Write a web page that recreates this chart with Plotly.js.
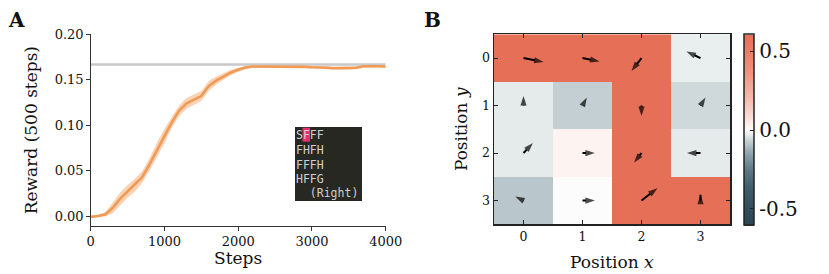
<!DOCTYPE html>
<html>
<head>
<meta charset="utf-8">
<script src="https://cdn.plot.ly/plotly-3.0.1.min.js"></script>
<style>html,body{margin:0;padding:0;background:#fff;}#chart{width:829px;height:274px;}</style>
</head>
<body>
<div id="chart"></div>
<script>
// ---------- Panel A data ----------
const steps = [0,100,200,300,400,500,600,700,800,900,1000,1100,1200,1300,1400,1500,1600,1700,1800,1900,2000,
  2100,2200,2300,2400,2500,2600,2700,2800,2900,3000,3100,3200,3300,3400,3500,3600,3700,3800,3900,4000];
const rewardMean = [-0.001,0.000,0.002,0.009,0.019,0.027,0.034,0.043,0.057,0.073,0.088,0.103,0.116,0.124,0.128,0.132,0.143,0.149,0.1535,0.158,0.161,
  0.1635,0.1645,0.1645,0.1645,0.1648,0.1645,0.1648,0.1645,0.1642,0.1637,0.1638,0.1632,0.1626,0.1626,0.1628,0.1632,0.1648,0.165,0.1648,0.1645];
const rewardHalfWidth = [0.001,0.0012,0.0025,0.006,0.007,0.007,0.007,0.0065,0.007,0.008,0.008,0.006,0.006,0.006,0.0055,0.0055,0.0055,0.0045,0.0035,0.003,0.0022,
  0.0016,0.0014,0.0014,0.0014,0.0014,0.0014,0.0014,0.0014,0.0014,0.0014,0.0014,0.0016,0.0017,0.0017,0.0017,0.0016,0.0014,0.0014,0.0014,0.0014];
const optimalReward = 1/6;
const xTicksA = [0,1000,2000,3000,4000];
const yTicksA = [0,0.05,0.10,0.15,0.20];
const insetLines = ["SFFF","FHFH","FFFH","HFFG","  (Right)"];

// ---------- Panel B data ----------
const posX = [0,1,2,3];
const posY = [0,1,2,3];
const values = [
  [0.60, 0.60, 0.60, -0.025],
  [-0.03, -0.07, 0.60, -0.055],
  [-0.03, 0.03, 0.60, -0.03],
  [-0.085, -0.004, 0.60, 0.60]
];
// arrow components (in cell units; v positive = downward on the plot)
const arrowU = [
  [0.34, 0.29, -0.17, -0.24],
  [0.00, 0.073, 0.00, 0.085],
  [0.16, 0.21, -0.125, -0.23],
  [-0.14, 0.21, 0.27, 0.00]
];
const arrowV = [
  [0.084, 0.07, 0.27, -0.14],
  [-0.20, -0.17, 0.22, -0.17],
  [-0.21, 0.00, 0.20, 0.00],
  [-0.085, 0.00, -0.26, -0.12]
];
const cbTicks = [-0.5, 0, 0.5];
const cbTickText = ["-0.5", "0.0", "0.5"];

const W = 829, H = 274;
const px = v => v / W;
const py = v => 1 - v / H;
const serif = "DejaVu Serif";

const lower = rewardMean.map((m,i) => m - rewardHalfWidth[i]);
const upper = rewardMean.map((m,i) => m + rewardHalfWidth[i]);

// arrows as line segments with arrow markers at the heads
const arrX = [], arrY = [], arrSize = [];
for (let r = 0; r < posY.length; r++) {
  for (let c = 0; c < posX.length; c++) {
    arrX.push(posX[c], posX[c] + arrowU[r][c], null);
    arrY.push(posY[r], posY[r] + arrowV[r][c], null);
    arrSize.push(0, 10, 0);
  }
}

const traces = [
  {x: steps, y: lower, type:'scatter', mode:'lines', line:{width:0, color:'rgba(0,0,0,0)'}, xaxis:'x', yaxis:'y', hoverinfo:'skip', showlegend:false},
  {x: steps, y: upper, type:'scatter', mode:'lines', line:{width:0, color:'rgba(0,0,0,0)'}, fill:'tonexty', fillcolor:'rgba(244,168,108,0.5)', xaxis:'x', yaxis:'y', showlegend:false},
  {x: [steps[0], steps[steps.length-1]], y:[optimalReward, optimalReward], type:'scatter', mode:'lines', line:{color:'#c8c8c8', width:2.5}, xaxis:'x', yaxis:'y', showlegend:false},
  {x: steps, y: rewardMean, type:'scatter', mode:'lines', line:{color:'#f19a55', width:2.6}, xaxis:'x', yaxis:'y', showlegend:false},
  {
    type:'heatmap', x: posX, y: posY, z: values, xaxis:'x2', yaxis:'y2',
    zmin:-0.605, zmax:0.605,
    colorscale:[[0,'#2b4551'],[0.1,'#34505c'],[0.2,'#3f5d6a'],[0.29,'#5c7784'],[0.38,'#8fa4ac'],[0.448,'#c8d3d6'],[0.5,'#ffffff'],
                [0.56,'#fbe2dc'],[0.66,'#f5bdb0'],[0.8,'#ee9480'],[1,'#e66f56']],
    colorbar:{
      x: px(744), xanchor:'left', xpad:0, y: py(130), yanchor:'middle', ypad:0,
      thickness:10, thicknessmode:'pixels', len:191.4, lenmode:'pixels',
      outlinewidth:1.5, outlinecolor:'#222',
      tickvals: cbTicks, ticktext: cbTickText, ticks:'inside', ticklen:4, tickcolor:'#222',
      tickfont:{family:serif, size:20, color:'#111'}
    },
    hoverinfo:'skip'
  },
  {
    type:'scatter', mode:'lines+markers', x: arrX, y: arrY, xaxis:'x2', yaxis:'y2', connectgaps:false,
    line:{color:'#000', width:2},
    marker:{symbol:'arrow', angleref:'previous', size: arrSize, color:'#000', line:{width:0}},
    hoverinfo:'skip', showlegend:false
  }
];

const annotations = [];
annotations.push({xref:'paper', yref:'paper', x:px(6), y:py(6), xanchor:'left', yanchor:'top', text:'<b>A</b>', showarrow:false, font:{family:serif, size:20, color:'#111'}});
annotations.push({xref:'paper', yref:'paper', x:px(422), y:py(6), xanchor:'left', yanchor:'top', text:'<b>B</b>', showarrow:false, font:{family:serif, size:20, color:'#111'}});
// x-axis titles placed as annotations for exact vertical placement
annotations.push({xref:'paper', yref:'paper', x:px(238), y:py(258), xanchor:'center', yanchor:'middle', text:'Steps', showarrow:false, font:{family:serif, size:17, color:'#111'}});
annotations.push({xref:'paper', yref:'paper', x:px(612), y:py(262), xanchor:'center', yanchor:'middle', text:'Position <i>x</i>', showarrow:false, font:{family:serif, size:17, color:'#111'}});
const lineCenters = [135, 150, 164.5, 179, 193];
insetLines.forEach((t, i) => {
  annotations.push({xref:'paper', yref:'paper', x:px(295), y:py(lineCenters[i]), xanchor:'left', yanchor:'middle',
    text: t.replace(/ /g, '\u00a0'), showarrow:false, borderpad:0, font:{family:'DejaVu Sans Mono', size:11.5, color:'#cfcfcf'}});
});

const shapes = [
  {type:'rect', xref:'paper', yref:'paper', x0:px(295), x1:px(362), y0:py(201), y1:py(127), fillcolor:'#272822', line:{width:0}, layer:'above'},
  {type:'rect', xref:'paper', yref:'paper', x0:px(302.5), x1:px(310), y0:py(141.7), y1:py(127.7), fillcolor:'#e8306f', line:{width:0}, layer:'above'}
];

const axisA = {
  showline:true, linecolor:'#333', linewidth:1, ticks:'outside', ticklen:3.5, tickcolor:'#333', tickwidth:1,
  showgrid:false, zeroline:false, tickfont:{family:serif, size:13, color:'#111'}
};
const axisB = {
  showline:true, mirror:'allticks', linecolor:'#222', linewidth:1.5, ticks:'inside', ticklen:4, tickcolor:'#222', tickwidth:1,
  showgrid:false, zeroline:false, tickfont:{family:serif, size:12.5, color:'#111'}
};

const layout = {
  width:W, height:H, margin:{l:0, r:0, t:0, b:0}, paper_bgcolor:'#fff', plot_bgcolor:'#fff',
  showlegend:false,
  xaxis: Object.assign({}, axisA, {domain:[px(90.7), px(385.7)], range:[0,4000], anchor:'y', tickvals:xTicksA, tickformat:'d'}),
  yaxis: Object.assign({}, axisA, {domain:[py(226), py(34.3)], range:[-0.011,0.2], anchor:'x', tickvals:yTicksA, tickformat:'.2f',
    title:{text:'Reward (500 steps)', font:{family:serif, size:17, color:'#111'}, standoff:12}}),
  xaxis2: Object.assign({}, axisB, {domain:[px(494), px(730)], range:[-0.5,3.5], anchor:'y2', tickvals:posX}),
  yaxis2: Object.assign({}, axisB, {domain:[py(224.3), py(34.3)], range:[3.5,-0.5], anchor:'x2', tickvals:posY,
    title:{text:'Position <i>y</i>', font:{family:serif, size:17, color:'#111'}, standoff:10}}),
  annotations: annotations,
  shapes: shapes
};

Plotly.newPlot('chart', traces, layout, {staticPlot:true, displayModeBar:false});
</script>
</body>
</html>
